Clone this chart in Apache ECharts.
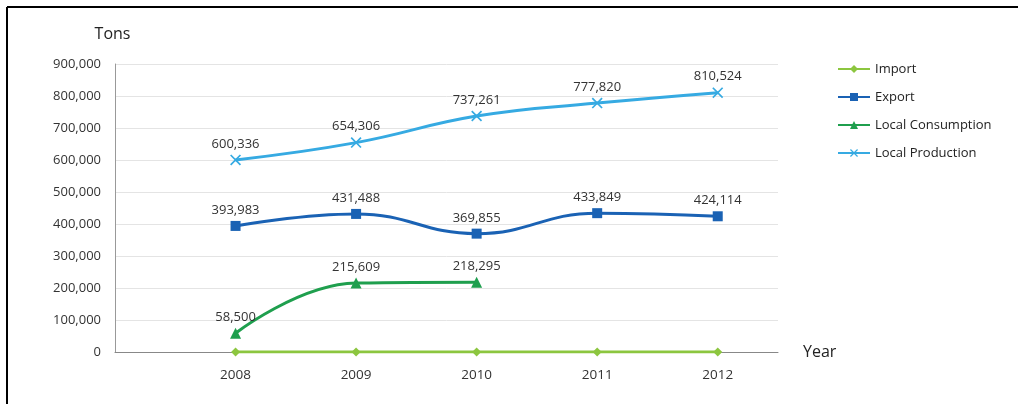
<!DOCTYPE html>
<html>
<head>
<meta charset="utf-8">
<script src="https://cdn.jsdelivr.net/npm/echarts@6/dist/echarts.min.js"></script>
<style>
  html, body { margin: 0; padding: 0; background: #fff; }
  #chart { width: 1019px; height: 404px; }
</style>
</head>
<body>
<div id="chart"></div>
<script>
// Years on the horizontal axis
const years = [2008, 2009, 2010, 2011, 2012];
// Tonnage per year for each series
const importTons = [0, 0, 0, 0, 0];
const exportTons = [393983, 431488, 369855, 433849, 424114];
const consumptionTons = [58500, 215609, 218295, null, null];
const productionTons = [600336, 654306, 737261, 777820, 810524];
// Vertical axis ticks
const yTicks = [0, 100000, 200000, 300000, 400000, 500000, 600000, 700000, 800000, 900000];

const FONT = '"Open Sans", Lato, sans-serif';
const fmt = v => v.toLocaleString('en-US');
const pairs = arr => years.map((y, i) => [y, arr[i]]);

// thin "x" mark used for the production series
const crossPath = 'path://M0,1.1L1.1,0L10,8.9L8.9,10Z M8.9,0L10,1.1L1.1,10L0,8.9Z';

function lineSeries(name, values, color, symbol, symbolSize, showLabel) {
  return {
    name: name,
    type: 'line',
    data: pairs(values),
    smooth: 0.45,
    connectNulls: false,
    symbol: symbol,
    symbolSize: symbolSize,
    lineStyle: { color: color, width: 3 },
    itemStyle: { color: color },
    label: {
      show: showLabel,
      position: 'top',
      distance: 4,
      color: '#333',
      fontFamily: FONT,
      fontSize: 13,
      formatter: p => fmt(p.value[1])
    },
    emphasis: { disabled: true },
    z: 3
  };
}

const chart = echarts.init(document.getElementById('chart'));
chart.setOption({
  animation: false,
  backgroundColor: '#fff',
  grid: { left: 115, right: 241, top: 64, bottom: 52 },
  legend: {
    orient: 'vertical',
    left: 832,
    top: 57,
    itemWidth: 32,
    itemHeight: 10,
    itemGap: 14,
    textStyle: { color: '#222', fontFamily: FONT, fontSize: 13, lineHeight: 14 },
    data: ['Import', 'Export', 'Local Consumption', 'Local Production']
  },
  xAxis: {
    type: 'value',
    min: 2007,
    max: 2012.5,
    interval: 1,
    name: 'Year',
    nameLocation: 'end',
    nameGap: 25,
    nameTextStyle: { color: '#222', fontFamily: FONT, fontSize: 16, verticalAlign: 'middle', padding: [6, 0, 0, 0] },
    axisLine: { show: true, onZero: true, lineStyle: { color: '#888', width: 1 } },
    axisTick: { show: false },
    splitLine: { show: false },
    axisLabel: {
      color: '#333',
      fontFamily: FONT,
      fontSize: 13.5,
      margin: 16,
      formatter: v => (years.indexOf(v) >= 0 ? String(v) : '')
    }
  },
  yAxis: {
    type: 'value',
    min: yTicks[0],
    max: yTicks[yTicks.length - 1],
    interval: yTicks[1] - yTicks[0],
    name: 'Tons',
    nameLocation: 'end',
    nameGap: 22,
    nameTextStyle: { color: '#222', fontFamily: FONT, fontSize: 16, align: 'center', padding: [0, 5, 0, 0] },
    axisLine: { show: true, lineStyle: { color: '#999', width: 1 } },
    axisTick: { show: false },
    splitLine: { show: true, lineStyle: { color: '#e4e4e4', width: 1 } },
    axisLabel: {
      color: '#333',
      fontFamily: FONT,
      fontSize: 13,
      margin: 14,
      formatter: v => fmt(v)
    }
  },
  series: [
    lineSeries('Import', importTons, '#8cc63f', 'diamond', 9, false),
    lineSeries('Export', exportTons, '#1a62b4', 'rect', 10, true),
    lineSeries('Local Consumption', consumptionTons, '#1f9f4e', 'triangle', 11, true),
    lineSeries('Local Production', productionTons, '#36aae2', crossPath, 11, true)
  ],
  graphic: [
    { type: 'line', shape: { x1: 7, y1: 7, x2: 1018, y2: 7 }, style: { stroke: '#000', lineWidth: 2 }, silent: true },
    { type: 'line', shape: { x1: 7, y1: 7, x2: 7, y2: 404 }, style: { stroke: '#000', lineWidth: 2 }, silent: true }
  ]
});
</script>
</body>
</html>
